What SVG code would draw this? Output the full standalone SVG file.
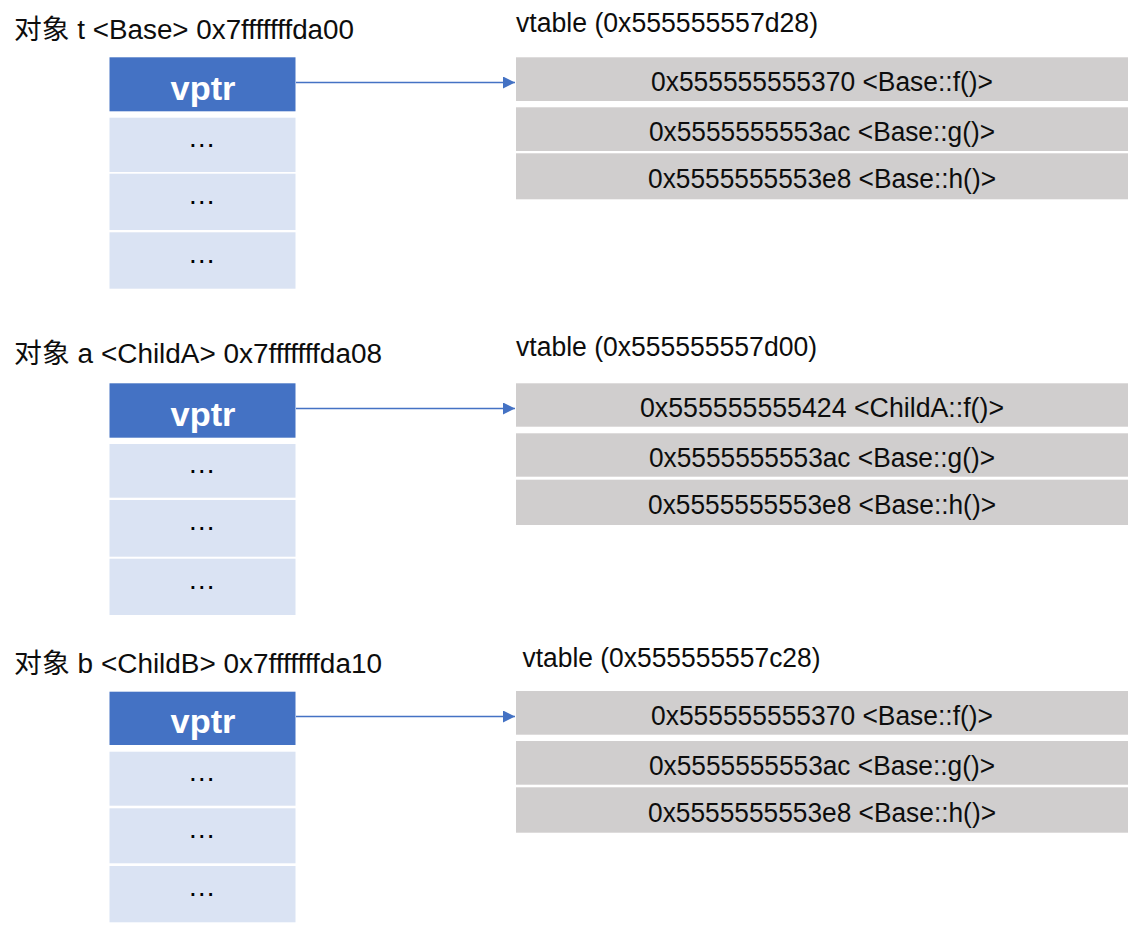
<svg xmlns="http://www.w3.org/2000/svg" width="1142" height="933" viewBox="0 0 1142 933">
<defs>
<style>
text { font-family: "Liberation Sans", "Noto Sans CJK SC", sans-serif; fill: #0d0d0d; }
.lbl { font-size: 27px; }
.row { font-size: 27px; text-anchor: middle; }
.vptr { fill: #4472C4; }
.vptrt { font-size: 33px; font-weight: bold; fill: #ffffff; text-anchor: middle; }
.cell { fill: #DAE3F3; }
.dots { font-size: 28px; text-anchor: middle; fill: #000; }
.vt { fill: #D0CECE; }
.conn { stroke: #4472C4; stroke-width: 1.3; fill: none; }
</style>
<marker id="ah" viewBox="0 0 12 12" refX="12" refY="6" markerWidth="12" markerHeight="12" markerUnits="userSpaceOnUse" orient="auto">
<path d="M0,0 L12,6 L0,12 Z" fill="#4472C4"/>
</marker>
</defs>
<rect width="1142" height="933" fill="#ffffff"/>

<g id="obj-t">
<text class="lbl" x="14" y="39" textLength="340" lengthAdjust="spacingAndGlyphs">对象 t &lt;Base&gt; 0x7fffffffda00</text>
<rect class="vptr" x="109.5" y="57.3" width="186" height="54"/>
<text class="vptrt" x="203" y="99.5" textLength="65" lengthAdjust="spacingAndGlyphs">vptr</text>
<rect class="cell" x="109.5" y="117.7" width="186" height="54.3"/>
<text class="dots" x="201.7" y="146.5">…</text>
<rect class="cell" x="109.5" y="173.7" width="186" height="56.3"/>
<text class="dots" x="201.7" y="204">…</text>
<rect class="cell" x="109.5" y="232.3" width="186" height="56.4"/>
<text class="dots" x="201.7" y="262.5">…</text>
</g>

<g id="vtable-base">
<text class="lbl" x="516" y="31.5" textLength="302" lengthAdjust="spacingAndGlyphs">vtable (0x555555557d28)</text>
<rect class="vt" x="516" y="57.3" width="612" height="43.7"/>
<text class="row" x="822" y="90.5" textLength="342" lengthAdjust="spacingAndGlyphs">0x555555555370 &lt;Base::f()&gt;</text>
<rect class="vt" x="516" y="107.3" width="612" height="43.7"/>
<text class="row" x="822" y="140.5" textLength="346" lengthAdjust="spacingAndGlyphs">0x5555555553ac &lt;Base::g()&gt;</text>
<rect class="vt" x="516" y="153.3" width="612" height="46"/>
<text class="row" x="822" y="187.5" textLength="348" lengthAdjust="spacingAndGlyphs">0x5555555553e8 &lt;Base::h()&gt;</text>
</g>

<g id="obj-a">
<text class="lbl" x="14" y="363" textLength="368" lengthAdjust="spacingAndGlyphs">对象 a &lt;ChildA&gt; 0x7fffffffda08</text>
<rect class="vptr" x="109.5" y="383.3" width="186" height="54.4"/>
<text class="vptrt" x="203" y="425.5" textLength="65" lengthAdjust="spacingAndGlyphs">vptr</text>
<rect class="cell" x="109.5" y="444" width="186" height="53.7"/>
<text class="dots" x="201.7" y="472.5">…</text>
<rect class="cell" x="109.5" y="500" width="186" height="56.7"/>
<text class="dots" x="201.7" y="530">…</text>
<rect class="cell" x="109.5" y="558.7" width="186" height="56.3"/>
<text class="dots" x="201.7" y="588.5">…</text>
</g>

<g id="vtable-childa">
<text class="lbl" x="516" y="355.5" textLength="301" lengthAdjust="spacingAndGlyphs">vtable (0x555555557d00)</text>
<rect class="vt" x="516" y="383.3" width="612" height="43.4"/>
<text class="row" x="822" y="417" textLength="364" lengthAdjust="spacingAndGlyphs">0x555555555424 &lt;ChildA::f()&gt;</text>
<rect class="vt" x="516" y="433.3" width="612" height="43.4"/>
<text class="row" x="822" y="466.5" textLength="346" lengthAdjust="spacingAndGlyphs">0x5555555553ac &lt;Base::g()&gt;</text>
<rect class="vt" x="516" y="479.7" width="612" height="45.3"/>
<text class="row" x="822" y="513.5" textLength="348" lengthAdjust="spacingAndGlyphs">0x5555555553e8 &lt;Base::h()&gt;</text>
</g>

<g id="obj-b">
<text class="lbl" x="14" y="673" textLength="368" lengthAdjust="spacingAndGlyphs">对象 b &lt;ChildB&gt; 0x7fffffffda10</text>
<rect class="vptr" x="109.5" y="691.7" width="186" height="53.3"/>
<text class="vptrt" x="203" y="733" textLength="65" lengthAdjust="spacingAndGlyphs">vptr</text>
<rect class="cell" x="109.5" y="751.7" width="186" height="54"/>
<text class="dots" x="201.7" y="780.5">…</text>
<rect class="cell" x="109.5" y="808.3" width="186" height="55"/>
<text class="dots" x="201.7" y="838">…</text>
<rect class="cell" x="109.5" y="866" width="186" height="56.3"/>
<text class="dots" x="201.7" y="896">…</text>
</g>

<g id="vtable-childb">
<text class="lbl" x="522.5" y="666.5" textLength="298" lengthAdjust="spacingAndGlyphs">vtable (0x555555557c28)</text>
<rect class="vt" x="516" y="691" width="612" height="43.7"/>
<text class="row" x="822" y="724.5" textLength="342" lengthAdjust="spacingAndGlyphs">0x555555555370 &lt;Base::f()&gt;</text>
<rect class="vt" x="516" y="741" width="612" height="43.7"/>
<text class="row" x="822" y="774.5" textLength="346" lengthAdjust="spacingAndGlyphs">0x5555555553ac &lt;Base::g()&gt;</text>
<rect class="vt" x="516" y="787.3" width="612" height="45.4"/>
<text class="row" x="822" y="821.5" textLength="348" lengthAdjust="spacingAndGlyphs">0x5555555553e8 &lt;Base::h()&gt;</text>
</g>

<g id="connectors">
<line class="conn" x1="296" y1="82.5" x2="515" y2="82.5" marker-end="url(#ah)"/>
<line class="conn" x1="296" y1="408.5" x2="515" y2="408.5" marker-end="url(#ah)"/>
<line class="conn" x1="296" y1="716.5" x2="515" y2="716.5" marker-end="url(#ah)"/>
</g>
</svg>
